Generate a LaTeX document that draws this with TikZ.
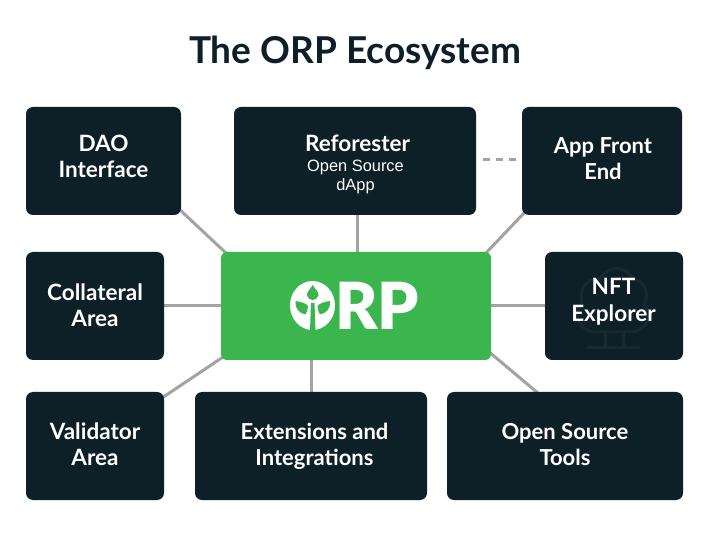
\documentclass[tikz,border=0pt]{standalone}
\usepackage{fontspec}
\setmainfont{Lato}
\newfontfamily\subfont{Liberation Sans}
\newfontfamily\heavyfont{Lato Black}
\usetikzlibrary{calc,backgrounds}
\definecolor{navy}{HTML}{0D2028}
\definecolor{leaf}{HTML}{3BB54E}
\definecolor{wire}{HTML}{A3A3A3}
\definecolor{treeline}{HTML}{18292F}
\tikzset{
 panel/.style={fill=navy,rounded corners=7pt,inner sep=0pt},
 hub/.style={fill=leaf,rounded corners=6pt,inner sep=0pt},
 wirel/.style={draw=wire,line width=3pt},
 tlabel/.style={inner sep=0pt,text=white,align=center,font=\fontsize{22.5}{26}\selectfont\bfseries},
 tlabelsm/.style={tlabel,font=\fontsize{22}{26}\selectfont\bfseries},
 sub/.style={font=\subfont\fontsize{16.4}{19.5}\selectfont,text=white,inner sep=0pt,align=center}
}
\begin{document}
\begin{tikzpicture}[x=1pt,y=-1pt]
\useasboundingbox (0,0) rectangle (713,540);
\begin{scope}[on background layer]
\fill[white] (0,0) rectangle (713,540);
\end{scope}
\node[inner sep=0pt,text=navy,font=\fontsize{37}{40}\selectfont\bfseries] (title) at (355,53) {The ORP Ecosystem};
\node[panel,minimum width=155pt,minimum height=108pt] (dao) at (103.5,161) {};
\node[panel,minimum width=242pt,minimum height=108pt] (ref) at (355,161) {};
\node[panel,minimum width=160pt,minimum height=108pt] (app) at (602,161) {};
\node[panel,minimum width=138pt,minimum height=108pt] (col) at (95,306) {};
\node[hub,minimum width=270pt,minimum height=108pt] (orp) at (356,306) {};
\node[panel,minimum width=138pt,minimum height=108pt] (nft) at (614,306) {};
\node[panel,minimum width=138pt,minimum height=108pt] (val) at (95,446) {};
\node[panel,minimum width=232pt,minimum height=108pt] (ext) at (311,446) {};
\node[panel,minimum width=236pt,minimum height=108pt] (ost) at (565,446) {};
% tree watermark
\begin{scope}[draw=treeline,line width=3pt,line cap=round]
 \draw (596,332) .. controls (580,332) and (572,315) .. (582,302) .. controls (578,285) and (592,276) .. (600,280) .. controls (606,266) and (625,264) .. (632,278) .. controls (645,280) and (650,296) .. (644,304) .. controls (654,318) and (645,332) .. (630,332) -- cycle;
 \draw (605,332) -- (605,348) (623,332) -- (623,348) (588,348) -- (639,348);
\end{scope}
\node[tlabel] (daot) at (103.5,156) {DAO\\Interface};
\node[inner sep=0pt,text=white,font=\fontsize{22.5}{26}\selectfont\bfseries] (reft) at (357.5,143) {Reforester};
\node[sub] (refs) at (355.5,177) {Open Source\\dApp};
\node[tlabelsm] (appt) at (603,159) {App Front\\End};
\node[tlabel] (colt) at (95,305) {Collateral\\Area};
\node[tlabel,font=\fontsize{22.5}{26.5}\selectfont\bfseries] (nftt) at (613.5,302) {NFT\\Explorer};
\node[tlabel] (valt) at (95,444) {Validator\\Area};
\node[tlabelsm] (extt) at (314.5,446) {Extensions and\\Integrations};
\node[tlabelsm] (ostt) at (565,445) {Open Source\\Tools};
% connectors
\begin{scope}[on background layer]
 \draw[wirel] ($(dao.south east)+(-2,-6)$) -- ($(orp.north west)+(6,2)$);
 \draw[wirel] (ref.south -| 357,0) -- (orp.north -| 357,0);
 \draw[wirel] ($(app.south west)+(4,-4)$) -- ($(orp.north east)+(-6,2)$);
 \draw[wirel] (col.east) -- (orp.west);
 \draw[wirel] (orp.east) -- (nft.west);
 \draw[wirel] ($(val.north east)+(-2,6)$) -- ($(orp.south west)+(5,-5)$);
 \draw[wirel] (orp.south -| ext.north) -- (ext.north);
 \draw[wirel] ($(orp.south east)+(-3,-9)$) -- ($(ost.north west)+(92,2)$);
 \draw[wirel,dash pattern=on 7pt off 6pt] ($(ref.east)+(7,-1)$) -- ($(app.west)+(-1,-1)$);
\end{scope}
% logo
\fill[white] (312.5,305.5) ellipse (22.5pt and 24.5pt);
\node[inner sep=0pt,anchor=base west,text=white,font=\heavyfont\fontsize{65}{65}\selectfont] (rp) at (335,330) {RP};
\fill[leaf] (312.7,285) .. controls (315,289) and (319,292) .. (318.5,295.5) .. controls (318,298.5) and (314.5,300) .. (312.7,300) .. controls (310.5,300) and (307.5,298.5) .. (307,295.5) .. controls (306.5,292) and (310.5,289) .. (312.7,285) -- cycle;
\fill[leaf] (295.5,301) .. controls (301,302) and (306,303) .. (308,306) .. controls (308,309) and (307,312) .. (305.5,314.5) .. controls (299,313) and (295,309) .. (295.5,301) -- cycle;
\fill[leaf] (330,301) .. controls (324.5,302) and (319.5,303) .. (317.5,306) .. controls (317.5,309) and (318.5,312) .. (320,314.5) .. controls (326.5,313) and (330.5,309) .. (330,301) -- cycle;
\fill[leaf] (311,303) -- (314.5,303) -- (315.5,331) -- (310,331) -- cycle;
\end{tikzpicture}
\end{document}
